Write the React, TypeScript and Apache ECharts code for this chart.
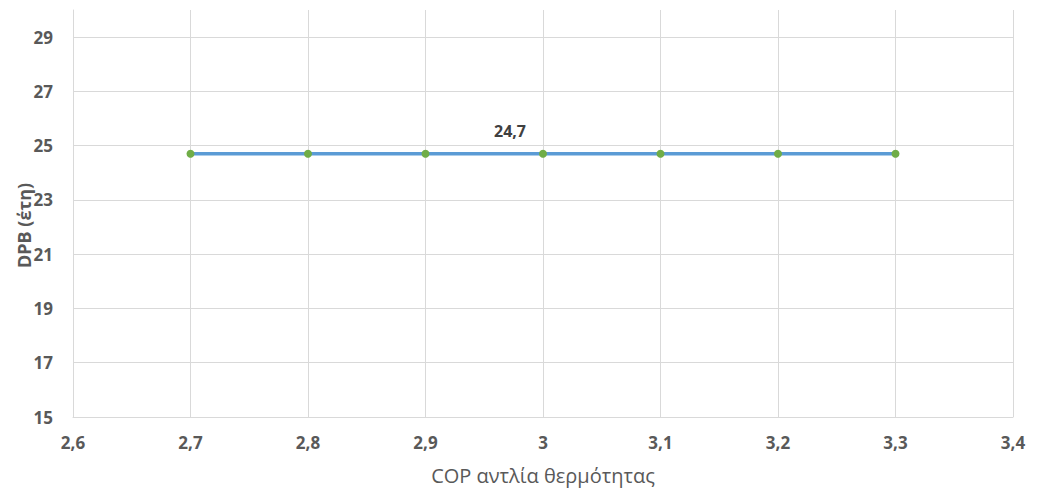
import React, { useEffect, useRef } from "react";
import * as echarts from "echarts";

// COP values of the heat pump and the resulting discounted payback (years)
const copValues = [2.7, 2.8, 2.9, 3.0, 3.1, 3.2, 3.3];
const dpbValues = [24.7, 24.7, 24.7, 24.7, 24.7, 24.7, 24.7];
const labelledIndex = 3;

// Labelled y-axis ticks (grid every 2 years starting at 15)
const yTickLabels = [15, 17, 19, 21, 23, 25, 27, 29];

const FONT = "'Open Sans', 'Noto Sans', sans-serif";
const TEXT = "#595959";
const GRID = "#d9d9d9";

const fmt = (v: number) => String(Math.round(v * 10) / 10).replace(".", ",");

export default function App() {
  const ref = useRef<HTMLDivElement>(null);

  useEffect(() => {
    if (!ref.current) return;
    const chart = echarts.init(ref.current, undefined, { renderer: "svg" });
    chart.setOption({
      animation: false,
      backgroundColor: "#ffffff",
      textStyle: { fontFamily: FONT },
      grid: {
        left: 73,
        right: 24,
        top: 10,
        bottom: 72,
        containLabel: false,
        outerBoundsMode: "none",
      },
      xAxis: {
        type: "value",
        min: 2.6,
        max: 3.4,
        interval: 0.1,
        name: "COP αντλία θερμότητας",
        nameLocation: "middle",
        nameGap: 48,
        nameMoveOverlap: false,
        nameTextStyle: { color: TEXT, fontSize: 20, fontFamily: FONT },
        axisLine: { show: true, lineStyle: { color: GRID, width: 1 } },
        axisTick: { show: false },
        axisLabel: {
          color: TEXT,
          fontSize: 17,
          fontWeight: "bold",
          fontFamily: FONT,
          margin: 17,
          formatter: (v: number) => fmt(v),
        },
        splitLine: { show: true, lineStyle: { color: GRID, width: 1 } },
      },
      yAxis: {
        type: "value",
        min: 15,
        max: 30,
        interval: 1,
        name: "DPB (έτη)",
        nameLocation: "middle",
        nameGap: 40,
        nameRotate: 90,
        nameMoveOverlap: false,
        nameTextStyle: {
          color: TEXT,
          fontSize: 18,
          fontWeight: "bold",
          fontFamily: FONT,
          padding: [0, 0, 0, -24],
        },
        axisLine: { show: true, lineStyle: { color: GRID, width: 1 } },
        axisTick: { show: false },
        axisLabel: {
          color: TEXT,
          fontSize: 17,
          fontWeight: "bold",
          fontFamily: FONT,
          margin: 20,
          formatter: (v: number) =>
            yTickLabels.includes(Math.round(v)) && Math.abs(v - Math.round(v)) < 1e-6 ? String(v) : "",
        },
        splitLine: {
          show: true,
          lineStyle: { color: [GRID, "rgba(0,0,0,0)"], width: 1 },
        },
      },
      series: [
        {
          type: "line",
          data: copValues.map((x, i) => ({
            value: [x, dpbValues[i]],
            label:
              i === labelledIndex
                ? {
                    show: true,
                    position: "top",
                    offset: [-33, -6],
                    formatter: () => fmt(dpbValues[i]),
                    color: "#404040",
                    fontSize: 16,
                    fontWeight: "bold",
                    fontFamily: FONT,
                  }
                : { show: false },
          })),
          lineStyle: { color: "#5b9bd5", width: 3.5 },
          symbol: "circle",
          symbolSize: 8,
          itemStyle: { color: "#70ad47", borderWidth: 0 },
          z: 3,
        },
      ],
    });
    return () => chart.dispose();
  }, []);

  return <div ref={ref} style={{ width: 1037, height: 489, marginLeft: -8, marginTop: -8 }} />;
}
